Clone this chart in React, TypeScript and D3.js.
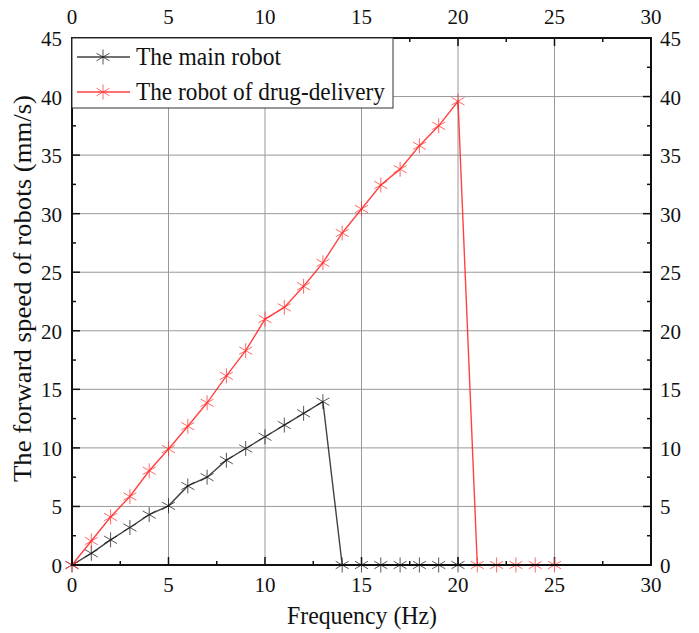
import React from 'react'
import { scaleLinear, line, range } from 'd3'

const freq = range(0, 21)
const mainSpeed = [0, 1.0, 2.15, 3.2, 4.3, 5.05, 6.75, 7.5, 8.95, 9.95, 10.95, 11.95, 12.95, 13.95, 0, 0, 0, 0, 0, 0, 0]
const freqDrug = range(0, 26)
const drugSpeed = [0, 2.05, 4.1, 5.85, 8.05, 9.9, 11.85, 13.85, 16.15, 18.3, 21.0, 22.0, 23.8, 25.8, 28.35, 30.4, 32.45, 33.8, 35.8, 37.5, 39.6, 0, 0, 0, 0, 0]
const xTicks = [0, 5, 10, 15, 20, 25, 30]
const yTicks = [0, 5, 10, 15, 20, 25, 30, 35, 40, 45]
const series = [
  { name: 'The main robot', xs: freq, ys: mainSpeed, color: '#222', marker: '#111', w: 145 },
  { name: 'The robot of drug-delivery', xs: freqDrug, ys: drugSpeed, color: '#f22', marker: '#ff2a2a', w: 249 },
]

const font = 'Liberation Serif'

function Star({ x, y, c }: { x: number; y: number; c: string }) {
  const r = 7.5
  const dx = r * Math.sin(Math.PI / 3), dy = r * Math.cos(Math.PI / 3)
  return (
    <g stroke={c} strokeWidth={1} opacity={0.7}>
      <line x1={x} y1={y - r} x2={x} y2={y + r} />
      <line x1={x - dx} y1={y - dy} x2={x + dx} y2={y + dy} />
      <line x1={x - dx} y1={y + dy} x2={x + dx} y2={y - dy} />
    </g>
  )
}

export default function App() {
  const width = 699, height = 633
  const left = 72, right = 651, top = 38, bottom = 565
  const x = scaleLinear().domain([0, 30]).range([left, right])
  const y = scaleLinear().domain([0, 45]).range([bottom, top])
  const minorX = range(0, 30.1, 2.5)
  const minorY = range(0, 45.1, 2.5)
  const lineGen = line<[number, number]>().x(d => x(d[0])).y(d => y(d[1]))

  return (
    <svg width={width} height={height} style={{ position: 'absolute', left: 0, top: 0, background: '#fff' }}>
      <rect width={width} height={height} fill="#fff" />
      {/* grid */}
      {xTicks.slice(1, -1).map(t => (
        <line key={'gx' + t} x1={x(t)} x2={x(t)} y1={top} y2={bottom} stroke="#999" strokeWidth={1} />
      ))}
      {yTicks.slice(1, -1).map(t => (
        <line key={'gy' + t} x1={left} x2={right} y1={y(t)} y2={y(t)} stroke="#999" strokeWidth={1} />
      ))}

      {/* ticks */}
      {minorX.map(t => {
        const len = t % 5 === 0 ? 8 : 4
        return (
          <g key={'tx' + t} stroke="#111" strokeWidth={1.5}>
            <line x1={x(t)} x2={x(t)} y1={bottom} y2={bottom - len} />
            <line x1={x(t)} x2={x(t)} y1={top} y2={top + len} />
          </g>
        )
      })}
      {minorY.map(t => {
        const len = t % 5 === 0 ? 8 : 4
        return (
          <g key={'ty' + t} stroke="#111" strokeWidth={1.5}>
            <line x1={left} x2={left + len} y1={y(t)} y2={y(t)} />
            <line x1={right} x2={right - len} y1={y(t)} y2={y(t)} />
          </g>
        )
      })}

      {/* series */}
      {series.map(s => {
        const pts = s.xs.map((v, i) => [v, s.ys[i]] as [number, number])
        return (
          <g key={s.name}>
            <path d={lineGen(pts) || ''} fill="none" stroke={s.color} strokeWidth={1.4} opacity={0.85} />
            {pts.map((p, i) => <Star key={i} x={x(p[0])} y={y(p[1])} c={s.marker} />)}
          </g>
        )
      })}

      {/* frame */}
      <rect x={left} y={top} width={right - left} height={bottom - top} fill="none" stroke="#111" strokeWidth={2} />

      {/* tick labels */}
      {xTicks.map(t => (
        <g key={'lx' + t}>
          <text x={x(t)} y={bottom + 27} fontFamily={font} fontSize={21} textAnchor="middle" fill="#111">{t}</text>
          <text x={x(t)} y={top - 14} fontFamily={font} fontSize={21} textAnchor="middle" fill="#111">{t}</text>
        </g>
      ))}
      {yTicks.map(t => (
        <g key={'ly' + t}>
          <text x={left - 10} y={y(t) + 8} fontFamily={font} fontSize={21} fill="#111" textAnchor="end">{t}</text>
          <text x={right + 9} y={y(t) + 8} fontFamily={font} fontSize={21} fill="#111" textAnchor="start">{t}</text>
        </g>
      ))}

      {/* axis titles */}
      <text x={287} y={624} fontFamily={font} fontSize={25} fill="#111" textLength={150} lengthAdjust="spacingAndGlyphs">Frequency (Hz)</text>
      <text transform={`translate(31,482) rotate(-90)`} fontFamily={font} fontSize={25} fill="#111" textLength={387} lengthAdjust="spacingAndGlyphs">
        The forward speed of robots (mm/s)
      </text>

      {/* legend */}
      <g>
        <rect x={left} y={top} width={321} height={70} fill="#fff" stroke="#333" strokeWidth={1} />
        {series.map((s, i) => {
          const ly = 57 + i * 35
          return (
            <g key={'lg' + i}>
              <line x1={77} x2={130} y1={ly} y2={ly} stroke={s.color} strokeWidth={1.4} opacity={0.85} />
              <Star x={103} y={ly} c={s.marker} />
              <text x={136} y={ly + 8} fontFamily={font} fontSize={25} fill="#111" textLength={s.w} lengthAdjust="spacingAndGlyphs">{s.name}</text>
            </g>
          )
        })}
      </g>
    </svg>
  )
}
